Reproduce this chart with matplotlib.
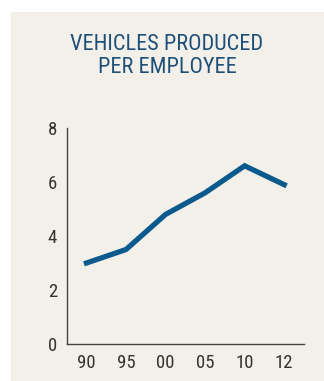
import matplotlib.pyplot as plt
from matplotlib.patches import Rectangle

years = ['90', '95', '00', '05', '10', '12']
vehicles = [3.0, 3.5, 4.8, 5.6, 6.6, 5.9]
yticks = [0, 2, 4, 6, 8]

bg = '#f3f0ea'
blue = '#0b5a8e'
font = ['Roboto Condensed', 'DejaVu Sans']

fig = plt.figure(figsize=(3.24, 3.81), dpi=100)
fig.patches.append(Rectangle((11/324, 0), 1 - 11/324, 1 - 12/381,
                             transform=fig.transFigure, color=bg, zorder=-5))

ax = fig.add_axes([66.7/324, 1 - 344/381, (304 - 66.7)/324, (344 - 128)/381])
ax.set_facecolor('none')
ax.plot(range(len(years)), vehicles, color=blue, lw=3.8, solid_joinstyle='miter')

ax.set_xlim(-0.5, 5.5)
ax.set_ylim(0, 8)
ax.set_xticks(range(len(years)))
ax.set_xticklabels(years)
ax.set_yticks(yticks)
ax.tick_params(length=0, labelsize=13.5, colors='#333333', pad=7)
for lab in ax.get_xticklabels() + ax.get_yticklabels():
    lab.set_family(font)
for s in ['top', 'right']:
    ax.spines[s].set_visible(False)
for s in ['left', 'bottom']:
    ax.spines[s].set_color('#444444')
    ax.spines[s].set_linewidth(1.0)

fig.text(167/324, 1 - 56/381, 'VEHICLES PRODUCED\nPER EMPLOYEE', ha='center', va='center',
         fontsize=16, color='#1d4f78', family=font, linespacing=1.15)

fig.savefig('out.png', dpi=100)
